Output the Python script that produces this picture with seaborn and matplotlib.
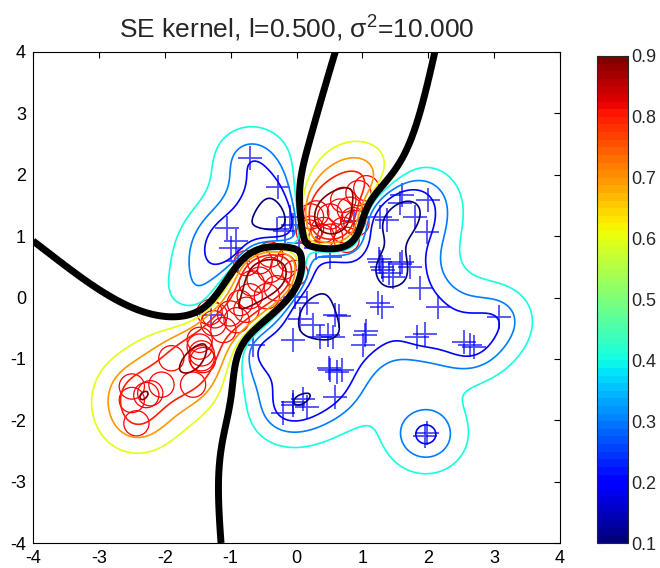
import math
import numpy as np
import pandas as pd
import matplotlib
matplotlib.use("Agg")
import matplotlib.pyplot as plt
import seaborn as sns
from matplotlib.colors import Normalize
from matplotlib.cm import ScalarMappable

# ---------------- data ----------------
circle_x = [-1.90, -1.47, -1.44, -1.44, -1.42, -2.50, -2.50, -2.28, -2.22, -2.05, -1.57, -2.43,
            -0.76, -0.56, -0.10, -0.02, -0.30, -0.56, -0.68, -0.71, -0.86, -1.01, -1.24, -1.32,
            -1.26, -1.11, -0.91, -0.76, -0.45, -0.40, -0.20, -1.47, -0.40,
            1.06, 0.94, 0.71, 0.81, 0.66, 0.86, 0.51, 0.30, 0.22, 0.22, 0.19, 0.41, 0.71, 0.51,
            0.38, 0.76, 0.91]
circle_y = [-0.99, -0.80, -0.91, -0.99, -1.02, -1.45, -1.67, -1.59, -1.56, -1.42, -1.42, -2.05,
            0.56, 0.59, 0.62, 0.40, 0.15, 0.29, 0.23, 0.02, -0.09, -0.26, -0.29, -0.24,
            -0.42, -0.53, -0.37, -0.20, 0.02, 0.45, 0.50, -0.69, 0.70,
            1.78, 1.70, 1.59, 1.43, 1.40, 1.26, 1.32, 1.37, 1.32, 1.12, 1.06, 1.10, 1.10, 0.99,
            0.99, 0.94, 1.21]

plus_x = [-0.71, -0.28, -1.06, -0.10, 1.27, 1.57, 1.99, 1.60, 1.80, 1.98, 1.37, 0.51, 1.27,
          1.57, 1.31, 1.72, 1.46, -0.02, 0.16, 0.58, -0.05, 0.48, 1.04, 1.24, 1.87, 2.15,
          1.83, 1.01, 2.63, 3.07, 0.51, 0.69, 0.58, -0.05, -0.21, 0.16, 1.98, -0.66,
          1.30, 1.25, 1.40, 1.60, 0.55, 0.65, 0.50, 0.62, 1.05, -0.05, 0.10, 1.95, 2.55,
          2.70, 1.30, 1.95, 0.88, -0.89, -1.00, -0.92, 0.05, 0.25, 0.35,
          -0.18, 0.04, 0.30, -0.30, -0.05, -1.30]
plus_y = [2.27, 1.80, 1.13, 1.31, 1.31, 1.54, 1.59, 1.67, 1.31, 1.07, 1.26, 0.66, 0.58,
          0.55, 0.45, 0.50, 0.34, 0.01, -0.09, -0.28, -0.69, -0.61, -0.61, -0.09, 0.16, -0.15,
          -0.64, -0.77, -0.77, -0.32, -1.18, -1.18, -1.62, -1.70, -1.88, -1.78, -2.21, -0.77,
          0.50, 0.62, 0.40, 0.58, -0.65, -0.30, -1.15, -1.22, -0.55, -1.75, -1.65, -0.60, -0.72,
          -0.80, -0.15, -2.26, 1.25, 0.59, 0.80, 0.92, -0.35, -0.45, -0.64,
          1.08, 0.88, 0.80, 1.12, 1.18, -0.28]

ell = 0.5
sf2 = 10.0
contour_levels = [0.1, 0.2, 0.3, 0.4, 0.6, 0.7, 0.8, 0.9]
cbar_ticks = [0.1, 0.2, 0.3, 0.4, 0.5, 0.6, 0.7, 0.8, 0.9]
axis_ticks = [-4, -3, -2, -1, 0, 1, 2, 3, 4]
title = "SE kernel, l=0.500, σ$^2$=10.000"

# ---------------- GP classifier (Laplace approximation, probit likelihood) ----------------
_erf = np.vectorize(math.erf)

def Phi(z):
    return 0.5 * (1.0 + _erf(z / math.sqrt(2.0)))

def npdf(z):
    return np.exp(-0.5 * z ** 2) / math.sqrt(2 * math.pi)

def se_kernel(A, B):
    d2 = ((A[:, None, :] - B[None, :, :]) ** 2).sum(-1)
    return sf2 * np.exp(-0.5 * d2 / ell ** 2)

X = np.column_stack([np.r_[circle_x, plus_x], np.r_[circle_y, plus_y]])
yl = np.r_[np.ones(len(circle_x)), -np.ones(len(plus_x))]
n = len(X)
K = se_kernel(X, X)

def lik_terms(f):
    yf = yl * f
    r = npdf(f) / np.maximum(Phi(yf), 1e-300)
    dlp = yl * r
    Wd = r ** 2 + yf * r
    return dlp, Wd

f = np.zeros(n)
for _ in range(300):
    dlp, Wd = lik_terms(f)
    sW = np.sqrt(np.maximum(Wd, 0))
    L = np.linalg.cholesky(np.eye(n) + sW[:, None] * K * sW[None, :])
    b = Wd * f + dlp
    c = np.linalg.solve(L.T, np.linalg.solve(L, sW * (K @ b)))
    a = b - sW * c
    f_new = K @ a
    if np.max(np.abs(f_new - f)) < 1e-10:
        f = f_new
        break
    f = 0.5 * f + 0.5 * f_new
dlp, Wd = lik_terms(f)
sW = np.sqrt(np.maximum(Wd, 0))
L = np.linalg.cholesky(np.eye(n) + sW[:, None] * K * sW[None, :])

g = np.linspace(-4, 4, 241)
GX, GY = np.meshgrid(g, g)
P = np.column_stack([GX.ravel(), GY.ravel()])
Ks = se_kernel(P, X)
mu = Ks @ dlp
v = np.linalg.solve(L, sW[:, None] * Ks.T)
var = np.maximum(sf2 - (v ** 2).sum(0), 1e-12)
prob = Phi(mu / np.sqrt(1 + var))
MU = mu.reshape(GX.shape)
PR = prob.reshape(GX.shape)

# ---------------- drawing ----------------
sns.set_style("white")
plt.rcParams["font.family"] = ["Liberation Sans", "DejaVu Sans"]
plt.rcParams["mathtext.default"] = "regular"
plt.rcParams["mathtext.fontset"] = "custom"
plt.rcParams["mathtext.rm"] = "Liberation Sans"

W_PX, H_PX = 660, 568
fig = plt.figure(figsize=(W_PX / 100, H_PX / 100), dpi=100)
ax = fig.add_axes([33 / W_PX, 25 / H_PX, 527 / W_PX, 491 / H_PX])
cax = fig.add_axes([597 / W_PX, 25 / H_PX, 31 / W_PX, 487 / H_PX])

cmap = plt.get_cmap("jet", 64)
norm = Normalize(vmin=0.1, vmax=0.9)

ax.contour(GX, GY, PR, levels=contour_levels, cmap=plt.get_cmap("jet"), norm=norm,
           linewidths=1.2)

pts_c = pd.DataFrame({"x": circle_x, "y": circle_y})
pts_p = pd.DataFrame({"x": plus_x, "y": plus_y})
sns.scatterplot(data=pts_p, x="x", y="y", marker="+", s=280, color=(0, 0, 1),
                linewidth=1.3, alpha=0.7, ax=ax, legend=False)
sns.scatterplot(data=pts_c, x="x", y="y", marker="o", s=330, ax=ax, legend=False)
coll = ax.collections[-1]
coll.set_facecolor("none")
coll.set_edgecolor("red")
coll.set_linewidth(0.9)

ax.contour(GX, GY, MU, levels=[0.0], colors="k", linewidths=5)

ax.set_xlim(-4, 4)
ax.set_ylim(-4, 4)
ax.set_xticks(axis_ticks)
ax.set_yticks(axis_ticks)
ax.set_xticklabels([str(v) for v in axis_ticks])
ax.set_yticklabels([str(v) for v in axis_ticks])
ax.set_xlabel("")
ax.set_ylabel("")
ax.tick_params(direction="in", length=4, width=0.8, top=True, right=True,
               labelsize=13, pad=5, colors="black")
for s in ax.spines.values():
    s.set_color("black")
    s.set_linewidth(0.8)
ax.set_title(title, fontsize=19, pad=10)

sm = ScalarMappable(norm=norm, cmap=cmap)
cb = fig.colorbar(sm, cax=cax, ticks=cbar_ticks)
cb.outline.set_linewidth(0.8)
cax.tick_params(direction="in", length=3, width=0.8, left=True, right=True,
                labelsize=13, pad=2)
cax.set_yticklabels([f"{v:.1f}" for v in cbar_ticks])

fig.savefig("out.png", dpi=100)
